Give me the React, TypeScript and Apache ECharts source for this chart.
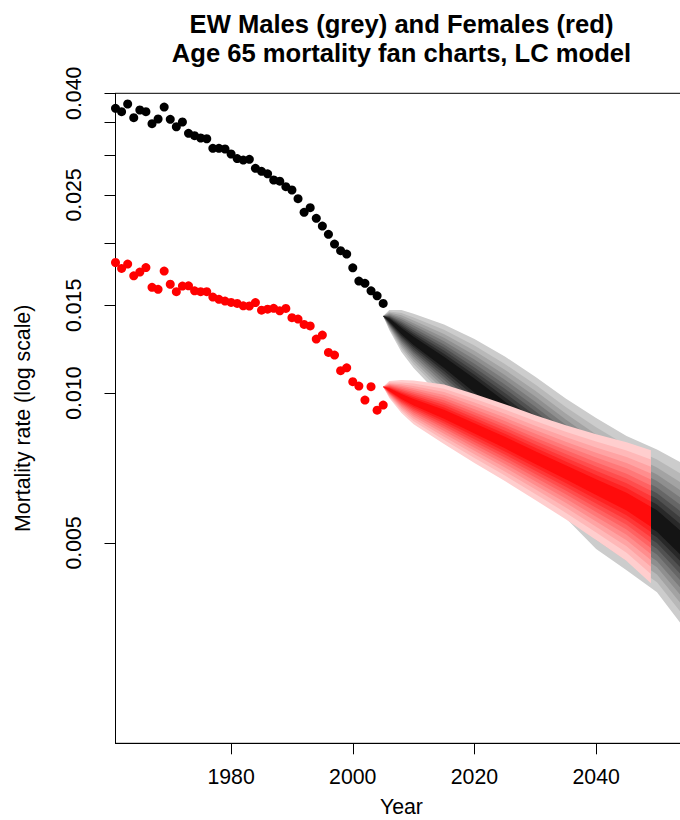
import React, { useEffect, useRef } from "react";
import * as echarts from "echarts";

// ---- Observed data (years 1961-2005) ----
const obsYears = [
  1961, 1962, 1963, 1964, 1965, 1966, 1967, 1968, 1969, 1970,
  1971, 1972, 1973, 1974, 1975, 1976, 1977, 1978, 1979, 1980,
  1981, 1982, 1983, 1984, 1985, 1986, 1987, 1988, 1989, 1990,
  1991, 1992, 1993, 1994, 1995, 1996, 1997, 1998, 1999, 2000,
  2001, 2002, 2003, 2004, 2005,
];
const maleRates = [
  0.03732, 0.03674, 0.03807, 0.03573, 0.03703, 0.03674, 0.03475, 0.03552, 0.03754, 0.03547,
  0.03427, 0.03503, 0.03324, 0.03288, 0.03253, 0.03242, 0.03102, 0.03102, 0.03092, 0.03021,
  0.02958, 0.02938, 0.02948, 0.02828, 0.02788, 0.02756, 0.02679, 0.02664, 0.02597, 0.02558,
  0.02457, 0.02307, 0.02357, 0.02244, 0.02165, 0.02084, 0.01992, 0.01932, 0.01902, 0.01785,
  0.01679, 0.01661, 0.01605, 0.01568, 0.01514,
];
const femaleRates = [
  0.01829, 0.0178, 0.01816, 0.0172, 0.0175, 0.01787, 0.01631, 0.01616, 0.01758, 0.01654,
  0.01598, 0.0164, 0.01642, 0.01605, 0.01598, 0.01598, 0.01559, 0.01543, 0.0153, 0.01521,
  0.01514, 0.01497, 0.01496, 0.0152, 0.01467, 0.01474, 0.0148, 0.01463, 0.01479, 0.01417,
  0.01408, 0.01374, 0.01364, 0.01284, 0.01308, 0.01207, 0.01192, 0.01109, 0.01124, 0.01054,
  0.01033, 0.00968, 0.0103, 0.00924, 0.00946,
];

// ---- Forecast fans: outermost interval bounds ----
const maleFanYears = [2005, 2006, 2008, 2010, 2015, 2020, 2025, 2030, 2035, 2040, 2045, 2050, 2055];
const maleFanUpper = [0.01428, 0.01468, 0.01468, 0.01444, 0.01373, 0.01284, 0.01184, 0.01079, 0.00975, 0.00891, 0.0082, 0.0077, 0.00714];
const maleFanLower = [0.01428, 0.01338, 0.01209, 0.01123, 0.00968, 0.00835, 0.00727, 0.00638, 0.00561, 0.00486, 0.00441, 0.00398, 0.00331];

const femaleFanYears = [2005, 2006, 2008, 2010, 2015, 2020, 2025, 2030, 2035, 2040, 2045, 2049];
const femaleFanUpper = [0.0103, 0.01057, 0.01062, 0.0106, 0.0104, 0.00996, 0.0095, 0.00903, 0.00862, 0.00827, 0.00797, 0.00768];
const femaleFanLower = [0.0103, 0.00977, 0.00912, 0.00866, 0.0079, 0.00724, 0.00666, 0.0061, 0.00558, 0.00507, 0.0046, 0.00415];

// fan band widths, as a share of the outermost band (outer -> inner)
const fanBands = [1.0, 0.86, 0.75, 0.65, 0.56, 0.47, 0.39, 0.31, 0.23, 0.15];

// ---- Axis ticks ----
const xTickYears = [1980, 2000, 2020, 2040];
const yTickRates = [0.005, 0.01, 0.015, 0.02, 0.025, 0.03, 0.035, 0.04];
const yLabelRates = [0.005, 0.01, 0.015, 0.025, 0.04];
const xRange = [1961, 2055];
const yRange = [0.00198, 0.04];

const FONT = '"Liberation Sans", Arial, Helvetica, sans-serif';

function lerpColor(a: number[], b: number[], t: number) {
  const c = a.map((v, i) => Math.round(v + (b[i] - v) * t));
  return `rgb(${c[0]},${c[1]},${c[2]})`;
}

function bandColors(outer: number[], inner: number[]) {
  const n = fanBands.length;
  return fanBands.map((_, k) => lerpColor(outer, inner, n === 1 ? 1 : k / (n - 1)));
}

function fanSeries(name: string, years: number[], upper: number[], lower: number[], colors: string[], z: number) {
  return {
    name,
    type: "custom",
    coordinateSystem: "cartesian2d",
    z,
    clip: true,
    silent: true,
    data: fanBands.map((_, k) => [years[0], Math.log(upper[0]), k]),
    encode: { x: 0, y: 1 },
    renderItem: (params: any, api: any) => {
      const k = api.value(2);
      const f = fanBands[k];
      const top: number[][] = [];
      const bot: number[][] = [];
      for (let i = 0; i < years.length; i++) {
        const lu = Math.log(upper[i]);
        const ll = Math.log(lower[i]);
        const c = (lu + ll) / 2;
        const h = (lu - ll) / 2;
        top.push(api.coord([years[i], c + f * h]));
        bot.push(api.coord([years[i], c - f * h]));
      }
      return {
        type: "polygon",
        shape: { points: top.concat(bot.reverse()) },
        style: { fill: colors[k], stroke: null },
      };
    },
  };
}

export default function App() {
  const ref = useRef<HTMLDivElement>(null);

  useEffect(() => {
    if (!ref.current) return;
    const chart = echarts.init(ref.current, null, { renderer: "svg" });

    const greyCols = bandColors([204, 204, 204], [20, 20, 20]);
    const redCols = bandColors([255, 206, 206], [255, 12, 12]);

    const option: any = {
      animation: false,
      backgroundColor: "#ffffff",
      textStyle: { fontFamily: FONT },
      grid: {
        left: 115.5,
        top: 93.3,
        right: -7.4,
        bottom: 76.7,
        show: true,
        borderColor: "#000",
        borderWidth: 1,
        backgroundColor: "transparent",
        containLabel: false,
        outerBoundsMode: "none",
      },
      graphic: [
        {
          type: "text",
          x: 401.5,
          y: 23.5,
          silent: true,
          style: {
            text: "EW Males (grey) and Females (red)",
            fontSize: 25.6,
            fontWeight: "bold",
            fontFamily: FONT,
            fill: "#000",
            align: "center",
            verticalAlign: "middle",
          },
        },
        {
          type: "text",
          x: 401.5,
          y: 53,
          silent: true,
          style: {
            text: "Age 65 mortality fan charts, LC model",
            fontSize: 25.6,
            fontWeight: "bold",
            fontFamily: FONT,
            fill: "#000",
            align: "center",
            verticalAlign: "middle",
          },
        },
      ],
      xAxis: {
        type: "value",
        min: xRange[0],
        max: xRange[1],
        name: "Year",
        nameLocation: "middle",
        nameGap: 53,
        nameMoveOverlap: false,
        nameTextStyle: { fontSize: 21.3, color: "#000", fontFamily: FONT },
        axisLine: { show: true, onZero: false, lineStyle: { color: "#000", width: 1 } },
        axisTick: {
          show: true,
          inside: false,
          length: 11,
          customValues: xTickYears,
          lineStyle: { color: "#000", width: 1 },
        },
        axisLabel: {
          customValues: xTickYears,
          margin: 23,
          fontSize: 21.3,
          color: "#000",
          fontFamily: FONT,
          formatter: (v: number) => String(Math.round(v)),
        },
        splitLine: { show: false },
      },
      yAxis: {
        type: "value",
        min: Math.log(yRange[0]),
        max: Math.log(yRange[1]) + 1e-9,
        name: "Mortality rate (log scale)",
        nameLocation: "middle",
        nameGap: 82,
        nameMoveOverlap: false,
        nameTextStyle: { fontSize: 21.3, color: "#000", fontFamily: FONT },
        axisLine: { show: true, onZero: false, lineStyle: { color: "#000", width: 1 } },
        axisTick: {
          show: true,
          inside: false,
          length: 11,
          customValues: yTickRates.map((v) => Math.log(v)),
          lineStyle: { color: "#000", width: 1 },
        },
        axisLabel: {
          customValues: yLabelRates.map((v) => Math.log(v)),
          rotate: 90,
          margin: 31,
          fontSize: 21.3,
          color: "#000",
          fontFamily: FONT,
          formatter: (v: number) => Math.exp(v).toFixed(3),
        },
        splitLine: { show: false },
      },
      series: [
        fanSeries("Males fan", maleFanYears, maleFanUpper, maleFanLower, greyCols, 1),
        fanSeries("Females fan", femaleFanYears, femaleFanUpper, femaleFanLower, redCols, 2),
        {
          name: "Males",
          type: "scatter",
          z: 3,
          symbol: "circle",
          symbolSize: 9,
          itemStyle: { color: "#000000", opacity: 1 },
          data: obsYears.map((y, i) => [y, Math.log(maleRates[i])]),
        },
        {
          name: "Females",
          type: "scatter",
          z: 3,
          symbol: "circle",
          symbolSize: 9,
          itemStyle: { color: "#ff0000", opacity: 1 },
          data: obsYears.map((y, i) => [y, Math.log(femaleRates[i])]),
        },
      ],
    };

    chart.setOption(option);
    return () => chart.dispose();
  }, []);

  return (
    <div
      ref={ref}
      style={{ position: "absolute", left: 0, top: 0, width: 680, height: 820 }}
    />
  );
}
